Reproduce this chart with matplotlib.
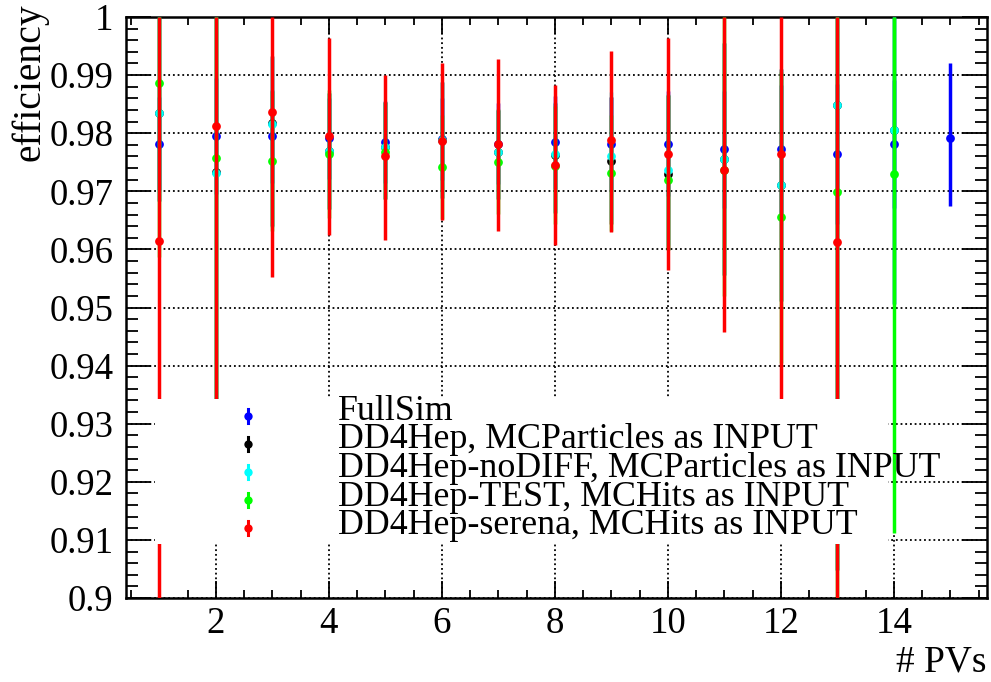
import matplotlib
matplotlib.use("Agg")
import matplotlib.pyplot as plt
from matplotlib.ticker import MultipleLocator, FuncFormatter
from matplotlib.patches import Rectangle
from matplotlib.lines import Line2D

plt.rcParams['font.family'] = ['Liberation Serif', 'DejaVu Serif']

# ---------------- data ----------------
labels = ["FullSim",
          "DD4Hep, MCParticles as INPUT",
          "DD4Hep-noDIFF, MCParticles as INPUT",
          "DD4Hep-TEST, MCHits as INPUT",
          "DD4Hep-serena, MCHits as INPUT"]
colors = ["#0000ff", "#000000", "#00ffff", "#00ff00", "#ff0000"]

x_full = [1, 2, 3, 4, 5, 6, 7, 8, 9, 10, 11, 12, 13, 14, 15]
eff_full = [0.9782, 0.9795, 0.9795, 0.9791, 0.9785, 0.9790, 0.9782, 0.9784,
            0.9782, 0.9782, 0.9772, 0.9773, 0.9764, 0.9781, 0.9792]
lo_full = [0.008, 0.010, 0.008, 0.007, 0.007, 0.007, 0.007, 0.008,
           0.008, 0.009, 0.010, 0.011, 0.012, 0.011, 0.0118]
hi_full = [0.008, 0.010, 0.008, 0.007, 0.007, 0.007, 0.007, 0.008,
           0.008, 0.009, 0.010, 0.011, 0.012, 0.011, 0.0129]

x_dd = [1, 2, 3, 4, 5, 6, 7, 8, 9, 10, 11, 12, 13, 14]
eff_dd = [0.9834, 0.9734, 0.9818, 0.9770, 0.9777, 0.9788, 0.9767, 0.9762,
          0.9753, 0.9729, 0.9756, 0.9711, 0.9848, 0.9806]
lo_dd = [0.015, 0.046, 0.0177, 0.010, 0.009, 0.010, 0.008, 0.010,
         0.011, 0.013, 0.020, 0.020, 0.080, 0.030]
hi_dd = [0.0166, 0.0266, 0.0115, 0.010, 0.0076, 0.010, 0.0073, 0.009,
         0.011, 0.0137, 0.020, 0.020, 0.0152, 0.0194]

x_nodiff = [1, 2, 3, 4, 5, 6, 7, 8, 9, 10, 11, 12, 13, 14]
eff_nodiff = [0.9834, 0.9731, 0.9815, 0.9770, 0.9777, 0.9788, 0.9767, 0.9764,
              0.9761, 0.9737, 0.9756, 0.9711, 0.9848, 0.9806]
lo_nodiff = [0.015, 0.046, 0.0177, 0.010, 0.009, 0.010, 0.008, 0.010,
             0.011, 0.013, 0.020, 0.020, 0.080, 0.030]
hi_nodiff = [0.0166, 0.0269, 0.0115, 0.010, 0.0076, 0.010, 0.0073, 0.009,
             0.011, 0.0130, 0.020, 0.020, 0.0152, 0.0194]

x_test = [1, 2, 3, 4, 5, 6, 7, 8, 9, 10, 11, 12, 13, 14]
eff_test = [0.9887, 0.9757, 0.9752, 0.9764, 0.9767, 0.9742, 0.9751, 0.9743,
            0.9731, 0.9719, 0.9737, 0.9655, 0.9699, 0.9729]
lo_test = [0.030, 0.048, 0.012, 0.011, 0.008, 0.009, 0.009, 0.010,
           0.010, 0.012, 0.0218, 0.025, 0.080, 0.0617]
hi_test = [0.0113, 0.0243, 0.012, 0.011, 0.0086, 0.009, 0.009, 0.0103,
           0.010, 0.0147, 0.0263, 0.025, 0.0301, 0.0271]

x_serena = [1, 2, 3, 4, 5, 6, 7, 8, 9, 10, 11, 12, 13]
eff_serena = [0.9615, 0.9813, 0.9836, 0.9795, 0.9760, 0.9787, 0.9782, 0.9746,
              0.9788, 0.9765, 0.9737, 0.9764, 0.9612]
lo_serena = [0.080, 0.056, 0.0283, 0.0170, 0.0144, 0.0137, 0.0151, 0.0139,
             0.0158, 0.0201, 0.0280, 0.0504, 0.070]
hi_serena = [0.0385, 0.0187, 0.0164, 0.0169, 0.0141, 0.0134, 0.0145, 0.0137,
             0.0153, 0.0199, 0.0263, 0.0236, 0.0388]

series = [
    (x_full, eff_full, lo_full, hi_full),
    (x_dd, eff_dd, lo_dd, hi_dd),
    (x_nodiff, eff_nodiff, lo_nodiff, hi_nodiff),
    (x_test, eff_test, lo_test, hi_test),
    (x_serena, eff_serena, lo_serena, hi_serena),
]

x_ticks = [2, 4, 6, 8, 10, 12, 14]
y_ticks = [0.90, 0.91, 0.92, 0.93, 0.94, 0.95, 0.96, 0.97, 0.98, 0.99, 1.00]

# ---------------- figure ----------------
W, H = 991, 682
fig = plt.figure(figsize=(W / 100, H / 100), dpi=100)
ax = fig.add_axes([126 / W, 1 - 598 / H, (987 - 126) / W, 581 / H])

ax.set_xlim(0.41, 15.65)
ax.set_ylim(0.9, 1.0)

lws = [2.5, 2.5, 2.5, 2.5, 2.5]
for i, ((xs, ys, lo, hi), c) in enumerate(zip(series, colors)):
    ax.errorbar(xs, ys, yerr=[lo, hi], fmt='o', color=c, ecolor=c,
                elinewidth=lws[i], capsize=0, markersize=6.3,
                markeredgewidth=0, zorder=3 + i)

# ticks and grid
ax.set_xticks(x_ticks)
ax.xaxis.set_minor_locator(MultipleLocator(0.5))
ax.set_yticks(y_ticks)
ax.yaxis.set_minor_locator(MultipleLocator(0.002))
ax.yaxis.set_major_formatter(FuncFormatter(lambda v, p: "%g" % round(v, 3)))
ax.grid(True, which='major', color='black', linestyle=(0, (1.0, 1.6)),
        linewidth=1.3, zorder=1)
ax.set_axisbelow(True)

for s in ax.spines.values():
    s.set_linewidth(1.8)

ax.tick_params(axis='both', which='both', direction='in', top=True, right=True,
               labelsize=26.5, width=1.3)
ax.tick_params(axis='x', which='major', length=12.5, pad=6)
ax.tick_params(axis='x', which='minor', length=6)
ax.tick_params(axis='y', which='major', length=18, pad=9)
ax.tick_params(axis='y', which='minor', length=8.5)

# axis titles
fig.text(30 / W, 1 - 3 / H, "efficiency", rotation=90, ha='center', va='top',
         fontsize=28.5)
fig.text(987 / W, 1 - 672 / H, "# PVs", ha='right', va='baseline', fontsize=27)

# legend (white box + entries)
fig.patches.append(Rectangle((155 / W, 1 - 544 / H), (888 - 155) / W, (544 - 399) / H,
                             transform=fig.transFigure, facecolor='white',
                             edgecolor='none', zorder=5))
for i, c in enumerate(colors):
    ypx = 416 + 28 * i
    fy = 1 - ypx / H
    fig.lines.append(Line2D([248 / W, 248 / W], [fy - 7 / H, fy + 7 / H],
                            transform=fig.transFigure, color=c, lw=2.2, zorder=6))
    fig.lines.append(Line2D([248 / W], [fy], transform=fig.transFigure, color=c,
                            marker='o', markersize=6, markeredgewidth=0,
                            linestyle='none', zorder=6))
# multi-line text: 'baseline' aligns the last line
fig.text(338 / W, 1 - 534 / H, "\n".join(labels), ha='left', va='baseline',
         fontsize=25.8, linespacing=0.82, zorder=7)

fig.savefig("out.png", dpi=100)
